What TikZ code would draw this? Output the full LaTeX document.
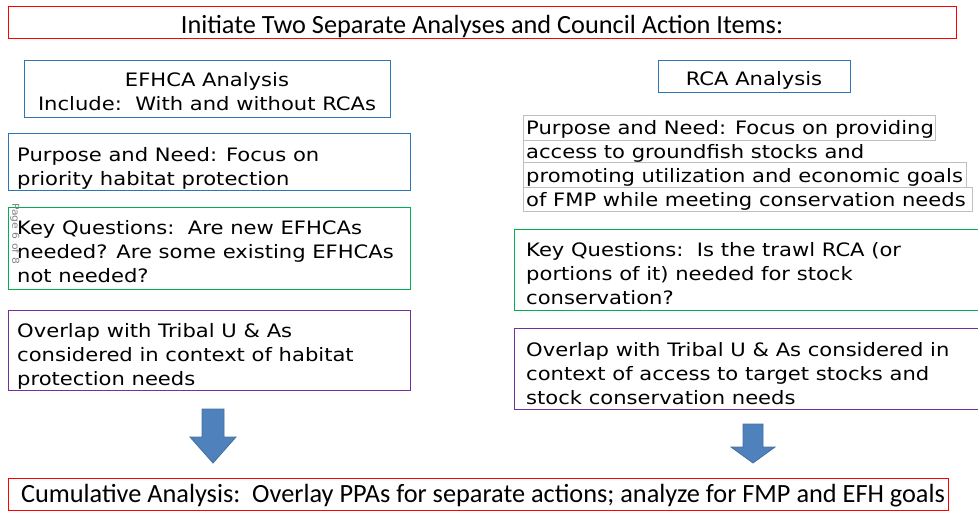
\documentclass[tikz,border=0pt]{standalone}
\usepackage{fontspec}
\setmainfont{DejaVu Sans}[FakeStretch=1.14]
\newfontfamily\calib{Carlito}
\definecolor{bred}{HTML}{FF0000}
\definecolor{bblue}{HTML}{2E75B6}
\definecolor{bgreen}{HTML}{00B050}
\definecolor{bpurple}{HTML}{7030A0}
\definecolor{agray}{HTML}{BFBFBF}
\definecolor{afill}{HTML}{4F81BD}
\definecolor{aline}{HTML}{41719C}
\definecolor{pgray}{HTML}{808080}
\tikzset{
  frame/.style={draw, line width=1pt, anchor=north west, inner sep=0pt},
  redframe/.style={frame, draw=bred},
  txt/.style={anchor=base west, inner sep=0pt, font=\fontsize{18.5}{24}\selectfont},
  ctxt/.style={txt, anchor=base},
  ttxt/.style={anchor=base, inner sep=0pt, font=\calib\fontsize{26.3}{30}\selectfont},
  bigarrow/.style={fill=afill, draw=aline, line width=0.8pt},
  grayline/.style={draw=agray, line width=0.8pt}
}
\begin{document}
\begin{tikzpicture}[x=1pt,y=-1pt]
\useasboundingbox (0,0) rectangle (978,512);
% title
\node[redframe, minimum width=948, minimum height=32] (title) at (8,6) {};
\node[ttxt] (title-t) at (482,33) {Initiate Two Separate Analyses and Council Action Items:};
% headers
\node[frame, draw=bblue, minimum width=366, minimum height=57] (efh) at (24,60) {};
\node[ctxt] (efh-1) at (207,86.5) {EFHCA Analysis};
\node[ctxt] (efh-2) at (207,110.5) {Include:\ \ With and without RCAs};
\node[frame, draw=bblue, minimum width=192, minimum height=32] (rca) at (658,60) {};
\node[ctxt] (rca-1) at (754,85.5) {RCA Analysis};
% left column
\node[frame, draw=bblue, minimum width=402, minimum height=57] (lpn) at (8,133) {};
\node[txt] (lpn-1) at (17,161.5) {Purpose and Need: Focus on};
\node[txt] (lpn-2) at (17,185.5) {priority habitat protection};
\node[frame, draw=bgreen, minimum width=402, minimum height=82] (lkq) at (8,207) {};
\node[txt] (lkq-1) at (17,234.5) {Key Questions:\ \ Are new EFHCAs};
\node[txt] (lkq-2) at (17,258.5) {needed? Are some existing EFHCAs};
\node[txt] (lkq-3) at (17,282.5) {not needed?};
\node[frame, draw=bpurple, minimum width=402, minimum height=80] (lov) at (8,310) {};
\node[txt] (lov-1) at (17,337.5) {Overlap with Tribal U \& As};
\node[txt] (lov-2) at (17,361.5) {considered in context of habitat};
\node[txt] (lov-3) at (17,385.5) {protection needs};
% right column purpose (per-line gray frames)
\draw[grayline] (523,115) rectangle (935,140);
\draw[grayline] (523,162) rectangle (966,187);
\draw[grayline] (523,187) rectangle (972,211);
\draw[grayline] (523,140) -- (523,162);
\node[txt] (rpn-1) at (526,134.5) {Purpose and Need: Focus on providing};
\node[txt] (rpn-2) at (526,158.5) {access to groundfish stocks and};
\node[txt] (rpn-3) at (526,182.5) {promoting utilization and economic goals};
\node[txt] (rpn-4) at (526,206.5) {of FMP while meeting conservation needs};
\node[frame, draw=bgreen, minimum width=470, minimum height=81] (rkq) at (514,229) {};
\node[txt] (rkq-1) at (526,256.5) {Key Questions:\ \ Is the trawl RCA (or};
\node[txt] (rkq-2) at (526,280.5) {portions of it) needed for stock};
\node[txt] (rkq-3) at (526,304.5) {conservation?};
\node[frame, draw=bpurple, minimum width=470, minimum height=81] (rov) at (514,328) {};
\node[txt] (rov-1) at (526,356.5) {Overlap with Tribal U \& As considered in};
\node[txt] (rov-2) at (526,380.5) {context of access to target stocks and};
\node[txt] (rov-3) at (526,404.5) {stock conservation needs};
% page mark
\node[rotate=-90, anchor=west, inner sep=0pt, text=pgray, font=\fontsize{9.5}{11}\selectfont] (pg) at (15,203) {Page 6 of 8};
% arrows
\draw[bigarrow] (202,409) -- (224,409) -- (224,437) -- (236,437) -- (213,463) -- (190,437) -- (202,437) -- cycle;
\draw[bigarrow] (743,424) -- (763,424) -- (763,447) -- (775,447) -- (753,463) -- (731,447) -- (743,447) -- cycle;
% bottom
\node[redframe, minimum width=940, minimum height=32] (cum) at (8,478) {};
\node[ttxt] (cum-t) at (483,502) {Cumulative Analysis:\ \ Overlay PPAs for separate actions; analyze for FMP and EFH goals};
\end{tikzpicture}
\end{document}
